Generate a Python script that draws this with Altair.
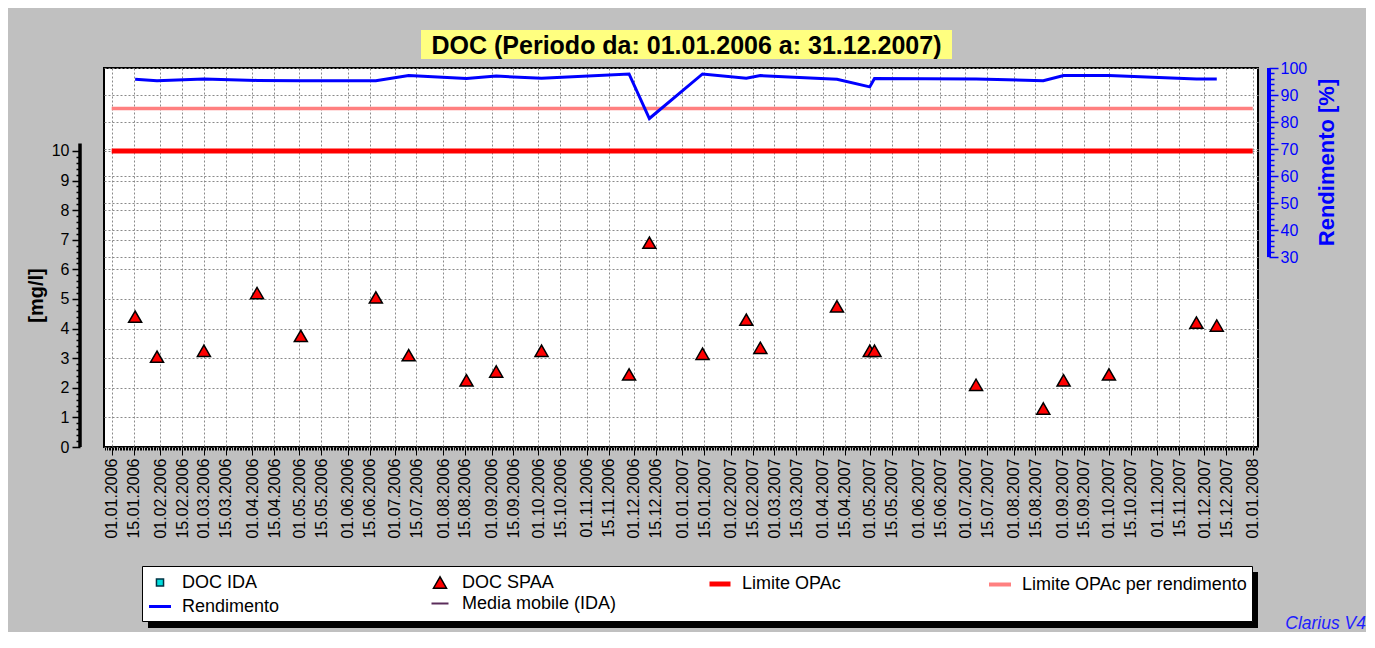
import altair as alt
import pandas as pd

# ---------------- data ----------------
sample_dates = [
    "2006-01-16", "2006-01-30", "2006-03-01", "2006-04-04", "2006-05-02", "2006-06-19",
    "2006-07-10", "2006-08-16", "2006-09-04", "2006-10-03", "2006-11-28", "2006-12-11",
    "2007-01-14", "2007-02-11", "2007-02-20", "2007-04-10", "2007-05-01", "2007-05-04",
    "2007-07-08", "2007-08-20", "2007-09-02", "2007-10-01", "2007-11-26", "2007-12-09",
]
doc_spaa = [4.4, 3.05, 3.25, 5.2, 3.75, 5.05, 3.1, 2.25, 2.55, 3.25, 2.45, 6.9,
            3.15, 4.3, 3.35, 4.75, 3.25, 3.25, 2.1, 1.3, 2.25, 2.45, 4.2, 4.1]
rendimento = [95.8, 95.3, 95.9, 95.4, 95.3, 95.3, 97.2, 96.1, 97.0, 96.2, 97.8, 81.3,
              97.8, 96.2, 97.2, 95.8, 93.0, 96.1, 95.9, 95.3, 97.2, 97.2, 95.9, 95.9]

limite_opac = [10]
limite_opac_rend = [85]
limit_start = ["2006-01-01"]
limit_end = ["2008-01-01"]

legend_names = ["DOC IDA", "DOC SPAA", "Limite OPAc", "Limite OPAc per rendimento",
                "Rendimento", "Media mobile (IDA)"]
legend_fill = ["#00DDDD", "#FF0000", "transparent", "transparent", "transparent", "transparent"]
legend_stroke = ["#003344", "#000000", "#FF0000", "#FF8080", "#0000FF", "#5B2C5B"]
legend_shape = ["square", "triangle-up", "stroke", "stroke", "stroke", "stroke"]
legend_size = [50, 170, 441, 484, 484, 289]
legend_stroke_w = [1.5, 1.5, 5, 4, 3, 2]

left_ticks = [i / 5 for i in range(51)]
right_ticks = list(range(30, 101, 2))
left_axis_span = [0, 10.25]
right_axis_span = [30, 100]

title_text = "DOC (Periodo da: 01.01.2006 a: 31.12.2007)"
footer_text = "Clarius V4"

FONT = "Liberation Sans"
W, H = 1154, 379
BLUE = "#0000FF"

df = pd.DataFrame({"data": sample_dates, "doc": doc_spaa, "rend": rendimento,
                   "serie": ["DOC SPAA"] * len(sample_dates)})
red_df = pd.DataFrame({"start": limit_start, "end": limit_end, "v": limite_opac})
pink_df = pd.DataFrame({"start": limit_start, "end": limit_end, "v": limite_opac_rend})
laxis_df = pd.DataFrame({"y0": [left_axis_span[0]], "y1": [left_axis_span[1]]})
raxis_df = pd.DataFrame({"y0": [right_axis_span[0]], "y1": [right_axis_span[1]]})

x_scale = alt.Scale(
    type="utc", nice=False,
    domain=[alt.DateTime(year=2005, month=12, date=27, hours=2, utc=True),
            alt.DateTime(year=2008, month=1, date=4, hours=9, utc=True)],
)
left_scale = alt.Scale(domain=[0, 12.8], nice=False, zero=False)
right_scale = alt.Scale(domain=[-40.3, 100], nice=False, zero=False)

is_major = "utcdate(datum.value) == 1 || utcdate(datum.value) == 15"
x_axis = alt.Axis(
    title=None, tickCount={"interval": "day", "step": 1},
    labelExpr=f"({is_major}) ? utcFormat(datum.value, '%d.%m.%Y') : ''",
    labelAngle=270, labelOverlap=False, labelFlush=False, labelFontSize=16,
    labelColor="black", labelPadding=3, labelFont=FONT,
    tickSize={"condition": {"test": is_major, "value": 8}, "value": 3},
    tickColor="black", tickWidth=1,
    grid=True, gridOpacity={"condition": {"test": is_major, "value": 1}, "value": 0},
    gridColor="#8a8a8a", gridDash=[2, 2], gridWidth=1, domain=False,
)

is_int = "abs(datum.value - round(datum.value)) < 0.001"
y_left_axis = alt.Axis(
    orient="left", offset=24, values=left_ticks, tickCount=500, domain=False,
    labelExpr=f"({is_int}) ? format(datum.value, 'd') : ''",
    labelFontSize=16, labelColor="black", labelPadding=3, labelOverlap=False,
    labelFlush=False, labelFont=FONT,
    tickSize={"condition": {"test": is_int, "value": 8}, "value": 4},
    tickColor="black", tickWidth=1.5,
    grid=True, gridOpacity={"condition": {"test": is_int, "value": 1}, "value": 0},
    gridColor="#8a8a8a", gridDash=[2, 2],
    title="[mg/l]", titleFontSize=20, titleFontWeight="bold", titleColor="black",
    titleFont=FONT, titleAngle=270, titleX=-44, titleY=227,
    titleBaseline="middle", titleAlign="center",
)

is_ten = "datum.value % 10 == 0"
y_right_axis = alt.Axis(
    orient="right", offset=11, values=right_ticks, tickCount=500, domain=False,
    labelExpr=f"({is_ten}) ? format(datum.value, 'd') : ''",
    labelFontSize=16, labelColor=BLUE, labelPadding=2, labelOverlap=False,
    labelFlush=False, labelFont=FONT,
    tickSize={"condition": {"test": is_ten, "value": 9}, "value": 5},
    tickColor=BLUE, tickWidth=1.5,
    grid=True, gridOpacity={"condition": {"test": is_ten, "value": 1}, "value": 0},
    gridColor="#8a8a8a", gridDash=[2, 2],
    title="Rendimento [%]", titleFontSize=22, titleFontWeight="bold", titleColor=BLUE,
    titleFont=FONT, titleAngle=270, titleX=57, titleY=94,
    titleBaseline="middle", titleAlign="center",
)

legend = alt.Legend(
    title=None, orient="none", legendX=38, legendY=498, direction="horizontal",
    columns=4, gridAlign="all", columnPadding=12, rowPadding=0, padding=5,
    fillColor="white", strokeColor="black",
    labelFont=FONT, labelFontSize=18, labelColor="black", labelOffset=9, labelLimit=400,
    symbolOpacity=1,
)

# ---------------- left (mg/l) group ----------------
red_rule = alt.Chart(red_df).mark_rule(color="#FF0000", strokeWidth=5).encode(
    x=alt.X("start:T", scale=x_scale),
    x2="end:T",
    y=alt.Y("v:Q", scale=left_scale),
)
left_axis_line = alt.Chart(laxis_df).mark_rule(color="black", strokeWidth=3.5).encode(
    x=alt.value(-24),
    y=alt.Y("y0:Q", scale=left_scale),
    y2="y1:Q",
)
triangles = alt.Chart(df).mark_point(filled=True, opacity=1).encode(
    x=alt.X("data:T", scale=x_scale, axis=x_axis),
    y=alt.Y("doc:Q", scale=left_scale, axis=y_left_axis),
    fill=alt.Fill("serie:N", scale=alt.Scale(domain=legend_names, range=legend_fill), legend=legend),
    stroke=alt.Stroke("serie:N", scale=alt.Scale(domain=legend_names, range=legend_stroke), legend=legend),
    shape=alt.Shape("serie:N", scale=alt.Scale(domain=legend_names, range=legend_shape), legend=legend),
    size=alt.Size("serie:N", scale=alt.Scale(type="ordinal", domain=legend_names, range=legend_size), legend=legend),
    strokeWidth=alt.StrokeWidth("serie:N", scale=alt.Scale(type="ordinal", domain=legend_names, range=legend_stroke_w), legend=legend),
)
left_group = alt.layer(red_rule, left_axis_line, triangles)

# ---------------- right (%) group ----------------
pink_rule = alt.Chart(pink_df).mark_rule(color="#FF8080", strokeWidth=3.5).encode(
    x=alt.X("start:T", scale=x_scale),
    x2="end:T",
    y=alt.Y("v:Q", scale=right_scale),
)
rend_line = alt.Chart(df).mark_line(color=BLUE, strokeWidth=3).encode(
    x=alt.X("data:T", scale=x_scale),
    y=alt.Y("rend:Q", scale=right_scale, axis=y_right_axis),
)
right_axis_line = alt.Chart(raxis_df).mark_rule(color=BLUE, strokeWidth=4).encode(
    x=alt.value(W + 11),
    y=alt.Y("y0:Q", scale=right_scale),
    y2="y1:Q",
)
right_group = alt.layer(pink_rule, rend_line, right_axis_line)

# ---------------- decorations ----------------
title_box = alt.Chart(pd.DataFrame({"t": [title_text]})).mark_rect(color="#FFFF80").encode(
    x=alt.value(317), x2=alt.value(848), y=alt.value(-38), y2=alt.value(-9)
)
title_txt = alt.Chart(pd.DataFrame({"t": [title_text]})).mark_text(
    font=FONT, fontSize=25, fontWeight="bold", color="black", align="center", baseline="middle"
).encode(text="t:N", x=alt.value(582.5), y=alt.value(-22))
legend_shadow = alt.Chart(pd.DataFrame({"t": ["shadow"]})).mark_rect(color="black").encode(
    x=alt.value(44), x2=alt.value(1154), y=alt.value(504), y2=alt.value(560)
)
footer = alt.Chart(pd.DataFrame({"t": [footer_text]})).mark_text(
    font=FONT, fontSize=17.5, fontStyle="italic", color="#1E1EFF", align="right", baseline="alphabetic"
).encode(text="t:N", x=alt.value(1262), y=alt.value(561))

chart = (
    alt.layer(left_group, right_group, title_box, title_txt, legend_shadow, footer)
    .resolve_scale(y="independent")
    .properties(
        width=W, height=H, background="#C0C0C0",
        padding={"left": 96, "top": 60, "right": 108, "bottom": 185},
        autosize=alt.AutoSizeParams(type="none"),
    )
    .configure(font=FONT)
    .configure_view(stroke="black", strokeWidth=2, fill="white")
)

chart.save("out.html", embed_options={"renderer": "svg", "actions": False})
